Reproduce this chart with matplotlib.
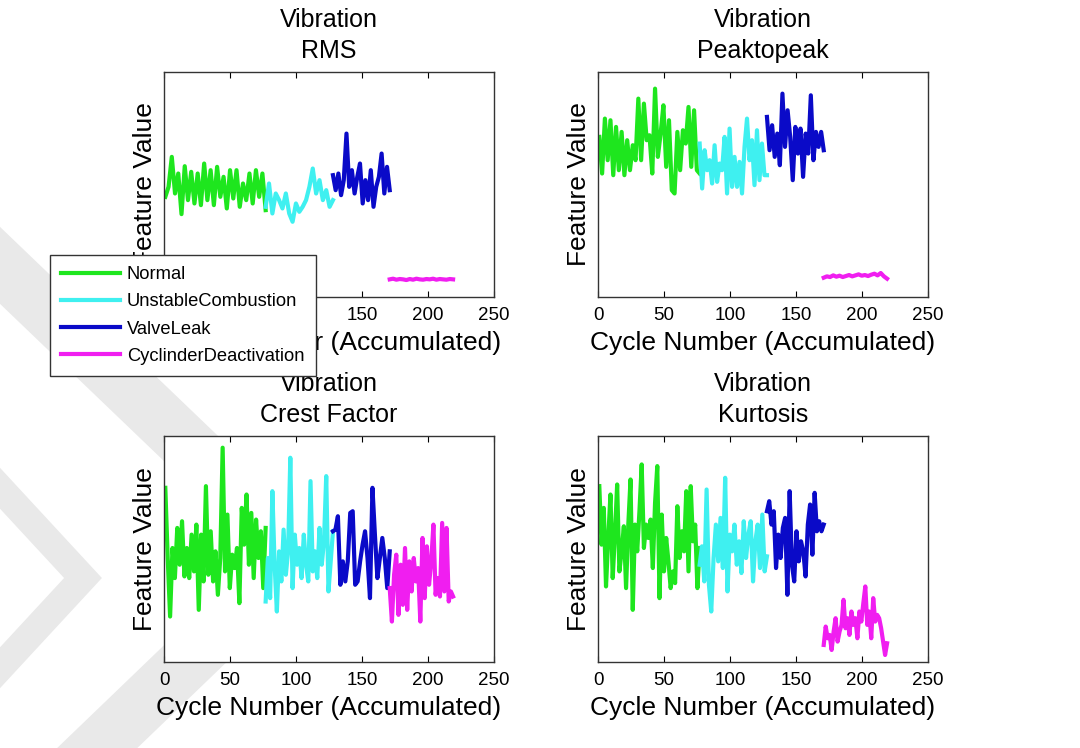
import numpy as np
import matplotlib.pyplot as plt
from matplotlib.lines import Line2D
from matplotlib.transforms import IdentityTransform

plt.rcParams['font.family'] = ['Liberation Sans', 'DejaVu Sans']

# segment bounds (cycle numbers)
seg_bounds = [(1, 77), (77, 128), (128, 171), (171, 219)]
seg_names = ['Normal', 'UnstableCombustion', 'ValveLeak', 'CyclinderDeactivation']
seg_colors = ['#1ee61e', '#3ff0f0', '#0a0ac8', '#f01ef0']

# ---- RMS ----
rms_normal = [301, 331, 421, 311, 371, 249, 393, 291, 376, 281, 371, 276, 401, 291, 381, 276,
              391, 301, 361, 266, 381, 296, 381, 271, 341, 291, 371, 281, 381, 301, 371, 261]
rms_unstable = [271, 341, 251, 311, 291, 266, 311, 251, 226, 281, 256, 271, 291, 331, 386, 311,
                351, 291, 321, 271, 291]
rms_valve = [366, 321, 371, 306, 351, 491, 331, 381, 311, 361, 401, 281, 351, 291, 381, 271,
             331, 361, 431, 311, 391, 321]
rms_cyl = [53, 55, 52, 54, 53, 51, 54, 52, 55, 53, 52, 54, 53, 55, 52, 54, 53, 52, 54, 53]

# ---- Peak to peak ----
p2p_normal = [481, 371, 536, 411, 531, 366, 511, 381, 496, 366, 471, 381, 456, 411, 596, 411,
              581, 471, 486, 371, 626, 421, 491, 576, 391, 531, 321, 311, 496, 381, 501, 461,
              571, 391, 561, 381, 371]
p2p_unstable = [461, 326, 441, 381, 411, 341, 456, 346, 401, 381, 481, 311, 506, 331, 421, 331,
                406, 311, 451, 536, 411, 471, 336, 501, 351, 461, 366, 366]
p2p_valve = [541, 441, 516, 421, 491, 396, 611, 451, 561, 481, 351, 511, 431, 506, 361, 491,
             431, 606, 411, 496, 451, 496, 441]
p2p_cyl = [58, 62, 60, 65, 61, 64, 60, 63, 66, 62, 65, 68, 64, 66, 63, 67, 70, 65, 72, 62, 55]

# ---- Crest factor ----
cf_normal = [521, 311, 136, 341, 251, 401, 291, 421, 256, 341, 251, 381, 271, 411, 156, 381,
             241, 526, 261, 391, 241, 331, 201, 311, 641, 271, 441, 221, 321, 281, 341, 176,
             461, 351, 501, 291, 446, 251, 426, 311, 391, 221, 401]
cf_unstable = [181, 311, 191, 511, 291, 151, 331, 241, 396, 261, 331, 611, 221, 381, 291, 341,
               251, 381, 291, 241, 541, 271, 331, 251, 401, 291, 361, 556, 211, 301, 391]
cf_valve = [391, 396, 436, 231, 301, 241, 301, 446, 451, 231, 241, 301, 351, 391, 311, 191,
            521, 381, 251, 311, 371, 311, 221, 331]
cf_cyl = [221, 121, 261, 321, 141, 291, 171, 341, 156, 301, 211, 311, 241, 281, 121, 371,
          191, 346, 231, 301, 411, 201, 251, 196, 416, 211, 401, 181, 211, 196]

# ---- Kurtosis ----
kurt_normal = [526, 351, 461, 226, 371, 501, 251, 381, 531, 271, 331, 406, 221, 411, 546, 156,
               411, 331, 451, 591, 341, 411, 371, 426, 281, 476, 586, 191, 441, 271, 371, 301,
               221, 271, 236, 466, 311, 391, 331, 511, 271, 526, 361, 411, 221, 341]
kurt_unstable = [291, 346, 241, 516, 231, 151, 311, 411, 301, 431, 281, 551, 211, 381, 331, 411,
                 291, 361, 266, 421, 311, 381, 421, 241, 361, 411, 281, 441, 271, 316]
kurt_valve = [451, 481, 411, 451, 281, 381, 311, 401, 431, 201, 511, 291, 241, 391, 301, 361,
              331, 256, 411, 471, 321, 506, 391, 421, 391, 411]
kurt_cyl = [51, 106, 71, 81, 36, 91, 131, 61, 91, 111, 186, 101, 131, 81, 151, 111,
            131, 71, 151, 121, 176, 226, 111, 151, 71, 191, 121, 141, 131, 101, 61, 21, 56]

panels = [
    ('Vibration\nRMS', [rms_normal, rms_unstable, rms_valve, rms_cyl]),
    ('Vibration\nPeaktopeak', [p2p_normal, p2p_unstable, p2p_valve, p2p_cyl]),
    ('Vibration\nCrest Factor', [cf_normal, cf_unstable, cf_valve, cf_cyl]),
    ('Vibration\nKurtosis', [kurt_normal, kurt_unstable, kurt_valve, kurt_cyl]),
]

W, H = 1080, 748
fig = plt.figure(figsize=(W / 100, H / 100), dpi=100)
fig.patch.set_facecolor('white')

# faint watermark chevrons in the background (pixel coords, y from top)
def wm(xs, ys, lw):
    ln = Line2D(xs, [H - y for y in ys], color='#e9e9e9', linewidth=lw,
                solid_joinstyle='miter', transform=IdentityTransform(), zorder=-10)
    fig.add_artist(ln)

wm([-40, 300, -40], [227, 553, 880], 40)
wm([-40, 83, -40], [445, 578, 711], 20)

# axes boxes in pixels: left, top, width, height
boxes = [(164, 72, 330, 225), (598, 72, 330, 225), (164, 436, 330, 226), (598, 436, 330, 226)]

handles = []
for (title, series), (l, t, w, h) in zip(panels, boxes):
    ax = fig.add_axes([l / W, 1 - (t + h) / H, w / W, h / H])
    for vals, (a, b), c, name in zip(series, seg_bounds, seg_colors, seg_names):
        x = np.linspace(a, b, len(vals))
        ln, = ax.plot(x, vals, color=c, linewidth=3.0, label=name)
        if len(handles) < 4:
            handles.append(ln)
    ax.set_xlim(0, 250)
    ax.set_ylim(0, 676)
    ax.set_xticks([0, 50, 100, 150, 200, 250])
    ax.set_yticks([])
    ax.tick_params(axis='x', direction='in', top=True, length=4, labelsize=13.5, pad=7)
    for sp in ax.spines.values():
        sp.set_color('#333333')
        sp.set_linewidth(1.0)
    ax.set_title(title, fontsize=18, pad=10, linespacing=1.38)
    ax.set_xlabel('Cycle Number (Accumulated)', fontsize=19, labelpad=5)
    ax.set_ylabel('Feature Value', fontsize=19, labelpad=5)

leg = fig.legend(handles=handles, loc='upper left', bbox_to_anchor=(50 / W, 1 - 255 / H),
                 fontsize=13.2, frameon=True, fancybox=False, framealpha=1.0, borderaxespad=0,
                 handlelength=3.2, handletextpad=0.4, labelspacing=0.56, borderpad=0.6)
leg.get_frame().set_edgecolor('#333333')
leg.get_frame().set_linewidth(1.0)
leg.set_zorder(20)

fig.savefig('out.png', dpi=100, facecolor='white')
